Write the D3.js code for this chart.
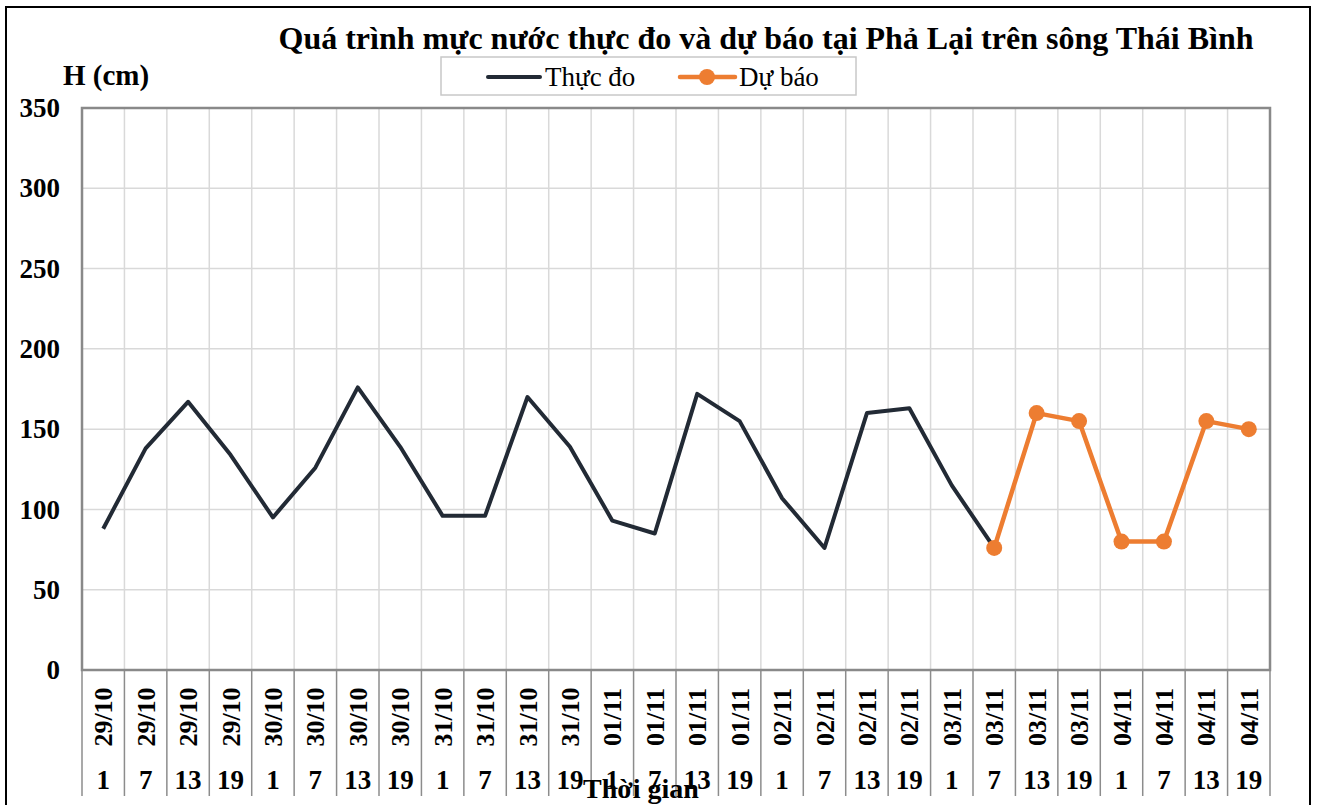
<!DOCTYPE html>
<html>
<head>
<meta charset="utf-8">
<script src="https://cdn.jsdelivr.net/npm/d3@7"></script>
<style>
  body { margin: 0; background: #fff; }
  svg { display: block; font-family: "Liberation Serif", "Times New Roman", serif; }
</style>
</head>
<body>
<script>
// ngày / giờ cho trục hoành
var dates = ["29/10","29/10","29/10","29/10","30/10","30/10","30/10","30/10",
             "31/10","31/10","31/10","31/10","01/11","01/11","01/11","01/11",
             "02/11","02/11","02/11","02/11","03/11","03/11","03/11","03/11",
             "04/11","04/11","04/11","04/11"];
var hours = ["1","7","13","19","1","7","13","19","1","7","13","19","1","7","13","19",
             "1","7","13","19","1","7","13","19","1","7","13","19"];

// thực đo: index 0..21
var observed = [88,138,167,134,95,126,176,139,96,96,170,139,93,85,172,155,107,76,160,163,115,76];
// dự báo: index 21..27
var forecastStart = 21;
var forecast = [76,160,155,80,80,155,150];

var yTicks = [0,50,100,150,200,250,300,350];

const W = 1318, H = 805;
var plot = {left: 82, right: 1270, top: 108, bottom: 670};

var svg = d3.select("body").append("svg")
    .attr("width", W)
    .attr("height", H);

// outer frame
svg.append("rect")
    .attr("x", 6).attr("y", 7)
    .attr("width", 1304).attr("height", 810)
    .style("fill", "none")
    .style("stroke", "#000")
    .style("stroke-width", 2);

var idx = d3.range(dates.length);
var x = d3.scaleBand().domain(idx).range([plot.left, plot.right]);
var y = d3.scaleLinear().domain([0, 350]).range([plot.bottom, plot.top]);
var cx = function(i) { return x(i) + x.bandwidth() / 2; };

// horizontal grid
svg.append("g")
    .selectAll("line")
    .data(yTicks)
    .enter().append("line")
    .attr("x1", plot.left).attr("x2", plot.right)
    .attr("y1", function(d) { return y(d); })
    .attr("y2", function(d) { return y(d); })
    .style("stroke", "#d9d9d9")
    .style("stroke-width", 1.5);

// vertical grid (category borders)
svg.append("g")
    .selectAll("line")
    .data(idx.slice(1))
    .enter().append("line")
    .attr("x1", function(d) { return x(d); })
    .attr("x2", function(d) { return x(d); })
    .attr("y1", plot.top).attr("y2", plot.bottom)
    .style("stroke", "#d9d9d9")
    .style("stroke-width", 1.5);

// separators under the axis
svg.append("g")
    .selectAll("line")
    .data(idx.concat([idx.length]))
    .enter().append("line")
    .attr("x1", function(d) { return d < idx.length ? x(d) : plot.right; })
    .attr("x2", function(d) { return d < idx.length ? x(d) : plot.right; })
    .attr("y1", plot.bottom).attr("y2", 796)
    .style("stroke", "#8c8c8c")
    .style("stroke-width", 1.5);

// plot border
svg.append("rect")
    .attr("x", plot.left).attr("y", plot.top)
    .attr("width", plot.right - plot.left)
    .attr("height", plot.bottom - plot.top)
    .style("fill", "none")
    .style("stroke", "#898989")
    .style("stroke-width", 2.5);

// y axis labels
var yAxis = svg.append("g")
    .attr("transform", "translate(" + plot.left + ",0)")
    .call(d3.axisLeft(y).tickValues(yTicks).tickSize(0).tickPadding(22));
yAxis.select(".domain").remove();
yAxis.selectAll("text")
    .style("font-family", "Liberation Serif")
    .style("font-size", "27px")
    .style("font-weight", "bold")
    .style("fill", "#000");

// x labels: dates rotated
svg.append("g")
    .selectAll("text")
    .data(idx)
    .enter().append("text")
    .attr("transform", function(i) { return "translate(" + (cx(i) + 9) + ",717) rotate(-90)"; })
    .attr("text-anchor", "middle")
    .style("font-size", "26px")
    .style("font-weight", "bold")
    .text(function(i) { return dates[i]; });

// x labels: hours
svg.append("g")
    .selectAll("text")
    .data(idx)
    .enter().append("text")
    .attr("x", function(i) { return cx(i); })
    .attr("y", 789)
    .attr("text-anchor", "middle")
    .style("font-size", "27px")
    .style("font-weight", "bold")
    .text(function(i) { return hours[i]; });

// lines
var line = d3.line()
    .x(function(d) { return cx(d.i); })
    .y(function(d) { return y(d.v); });

var obsData = observed.map(function(v, i) { return {i: i, v: v}; });
var fcData = forecast.map(function(v, k) { return {i: forecastStart + k, v: v}; });

svg.append("path")
    .datum(obsData)
    .attr("d", line)
    .style("fill", "none")
    .style("stroke", "#222a35")
    .style("stroke-width", 4)
    .style("stroke-linejoin", "round");

svg.append("path")
    .datum(fcData)
    .attr("d", line)
    .style("fill", "none")
    .style("stroke", "#ed7d31")
    .style("stroke-width", 4.5)
    .style("stroke-linejoin", "round");

svg.selectAll(".dot")
    .data(fcData)
    .enter().append("circle")
    .attr("class", "dot")
    .attr("cx", function(d) { return cx(d.i); })
    .attr("cy", function(d) { return y(d.v); })
    .attr("r", 8)
    .style("fill", "#ed7d31");

// title
svg.append("text")
    .attr("x", 766).attr("y", 49)
    .attr("text-anchor", "middle")
    .style("font-size", "32px")
    .style("font-weight", "bold")
    .text("Quá trình mực nước thực đo và dự báo tại Phả Lại trên sông Thái Bình");

// y axis title
svg.append("text")
    .attr("x", 63).attr("y", 85)
    .style("font-size", "29px")
    .style("font-weight", "bold")
    .text("H (cm)");

// x axis title
svg.append("text")
    .attr("x", 641).attr("y", 798)
    .attr("text-anchor", "middle")
    .style("font-size", "28px")
    .style("font-weight", "bold")
    .text("Thời gian");

// legend
var legend = svg.append("g");
legend.append("rect")
    .attr("x", 441).attr("y", 57)
    .attr("width", 415).attr("height", 38)
    .style("fill", "#fff")
    .style("stroke", "#c8c8c8")
    .style("stroke-width", 1.5);
legend.append("line")
    .attr("x1", 488).attr("x2", 540).attr("y1", 77).attr("y2", 77)
    .style("stroke", "#222a35").style("stroke-width", 4).style("stroke-linecap", "round");
legend.append("text")
    .attr("x", 545).attr("y", 86)
    .style("font-size", "27px")
    .text("Thực đo");
legend.append("line")
    .attr("x1", 680).attr("x2", 735).attr("y1", 77).attr("y2", 77)
    .style("stroke", "#ed7d31").style("stroke-width", 4.5).style("stroke-linecap", "round");
legend.append("circle")
    .attr("cx", 707).attr("cy", 77).attr("r", 8)
    .style("fill", "#ed7d31");
legend.append("text")
    .attr("x", 739).attr("y", 86)
    .style("font-size", "27px")
    .text("Dự báo");
</script>
</body>
</html>
